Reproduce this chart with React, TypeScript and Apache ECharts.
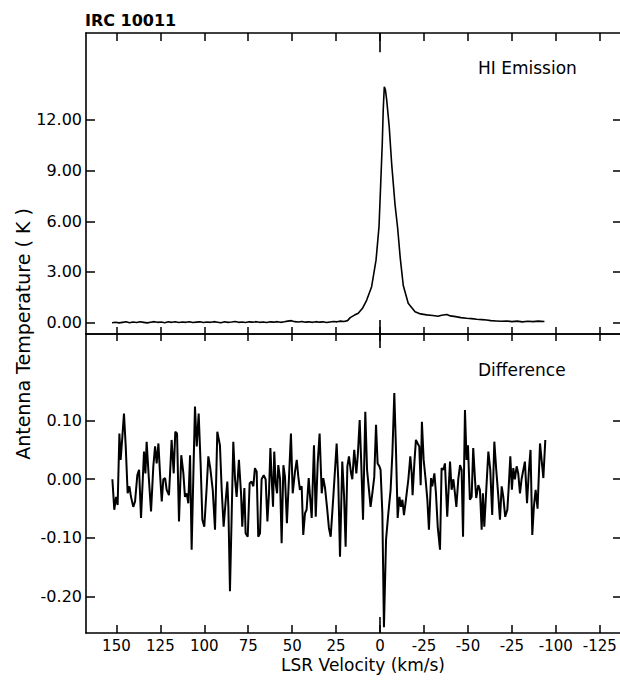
import React, { useEffect, useRef } from "react";
import * as echarts from "echarts";

// HI emission profile (LSR velocity km/s, antenna temperature K)
const hiVel = [
  152.5, 150.5, 148.5, 146.5, 144.5, 142.5, 140.5, 138.5, 136.5, 134.5, 132.5, 130.5, 128.5, 126.5, 124.5,
  122.5, 120.5, 118.5, 116.5, 114.5, 112.5, 110.5, 108.5, 106.5, 104.5, 102.5, 100.5, 98.5, 96.5, 94.5,
  92.5, 90.5, 88.5, 86.5, 84.5, 82.5, 80.5, 78.5, 76.5, 74.5, 72.5, 70.5, 68.5, 66.5, 64.5, 62.5, 60.5,
  58.5, 56.5, 54.5, 52.5, 50.5, 48.5, 46.5, 44.5, 42.5, 40.5, 38.5, 36.5, 34.5, 32.5, 30.5, 28.5, 26.5,
  24.5, 22.5, 20.5, 18.5, 17, 14.5, 12.4, 10, 7.6, 4.8, 2.3, 0.6, -0.3, -1.25, -1.8, -2.4, -3.0, -3.75,
  -5.2, -6.6, -8.5, -10.0, -11.5, -13.2, -16, -19.9, -23, -26.5, -30, -33, -35, -38, -40, -43, -46,
  -49.3, -52, -55, -58, -60.6, -63, -66, -69, -72, -75, -78, -81, -84, -87, -90, -93.5,
];
const hiTemp = [
  0.0, 0.03, -0.01, 0.02, 0.05, 0.0, 0.04, 0.01, 0.05, 0.02, -0.01, 0.03, 0.06, 0.02, 0.04,
  0.0, 0.05, 0.02, 0.06, 0.01, 0.04, 0.02, 0.06, 0.01, 0.03, 0.05, 0.01, 0.04, 0.02, 0.06,
  0.03, 0.0, 0.05, 0.02, 0.04, 0.07, 0.02, 0.04, 0.01, 0.05, 0.03, 0.06, 0.02, 0.04, 0.01, 0.05, 0.03,
  0.06, 0.02, 0.05, 0.09, 0.12, 0.06, 0.04, 0.07, 0.03, 0.05, 0.02, 0.06, 0.03, 0.05, 0.01, 0.04, 0.07,
  0.05, 0.09, 0.07, 0.12, 0.3, 0.45, 0.56, 0.85, 1.34, 2.13, 3.7, 5.68, 8.05, 10.6, 12.6, 13.96, 13.8, 13.2,
  11.6, 9.4, 7.0, 5.6, 3.8, 2.2, 1.15, 0.65, 0.52, 0.46, 0.42, 0.38, 0.44, 0.48, 0.4, 0.36, 0.3,
  0.26, 0.24, 0.2, 0.18, 0.16, 0.12, 0.1, 0.08, 0.1, 0.06, 0.09, 0.05, 0.08, 0.06, 0.09, 0.07,
];

// Difference spectrum
const diffVel = [
  152.3, 151.2, 150.2, 149.3, 148.3, 147.6, 146.6, 145.7, 144.7, 143.6, 142.6, 141.7, 140.4, 139.4, 138.1,
  137.1, 136.0, 135.0, 134.3, 133.5, 132.8, 131.6, 130.3, 129.0, 128.0, 127.1, 126.1, 125.2, 124.2, 123.3,
  122.3, 121.4, 120.1, 119.1, 118.6, 117.4, 116.5, 115.5, 114.4, 113.1, 111.9, 111.0, 110.0, 109.1, 108.1,
  107.2, 106.2, 105.3, 104.3, 103.2, 102.1, 101.1, 100.0, 98.6, 97.7, 96.6, 95.2, 93.9, 92.6,
  91.1, 90.1, 89.0, 87.8, 86.9, 86.3, 85.4, 84.4, 83.5, 82.5, 81.6, 80.3, 79.1, 78.4, 77.2, 76.5, 75.3,
  74.2, 73.1, 72.1, 71.2, 70.2, 69.3, 68.3, 67.4, 66.2, 65.1, 64.1, 63.2, 62.4, 61.7, 60.9, 60.2, 59.4,
  58.6, 57.9, 56.9, 56.0, 55.0, 54.1, 53.0, 51.8, 50.7, 49.7, 48.4, 47.4, 46.5, 45.6, 44.6, 43.7, 42.7,
  41.8, 40.6, 39.9, 38.9, 37.6, 36.6, 35.5, 34.4, 33.2, 32.3, 31.3, 30.2, 29.1,
  28.1, 26.6, 24.7, 23.8, 22.8, 21.5, 20.5, 19.6, 18.6, 17.7, 16.5, 15.8, 14.7, 13.5, 12.6, 11.6, 10.7,
  9.7, 8.4, 7.4, 6.5, 5.4, 4.4, 3.3, 2.3, 1.4, 0.4, -0.3, -1.3, -2.2, -3.4, -4.7, -6.0, -7.0, -8.1, -9.0,
  -10.0, -11.0, -11.9, -12.7, -13.6, -14.7, -16.1, -17.2, -18.0, -18.5, -19.5, -20.4, -21.4, -22.3, -23.1,
  -23.8, -24.8, -25.9, -26.9, -27.8, -29.0, -29.7, -30.9, -31.8, -32.8, -34.1,
  -35.0, -36.0, -36.9, -38.2, -39.8, -40.7, -41.7, -42.6, -43.4, -44.5, -45.5, -46.4, -47.2, -48.3, -49.2,
  -50.0, -51.1, -52.1, -53.0, -54.0, -54.7, -55.9, -56.8, -57.8, -58.5, -59.3, -60.2, -61.6, -62.7, -63.8,
  -65.0, -66.1, -67.3, -68.2, -69.2, -70.1, -71.2, -72.4, -73.1, -74.1, -75.0, -75.8, -76.7, -77.7, -78.6,
  -79.6, -80.5, -81.5, -82.4, -83.6, -84.7, -85.6, -86.6, -87.5, -88.5, -89.6, -91.0, -91.9, -92.9, -94.0,
];
const diffVal = [
  0.0, -0.052, -0.03, -0.044, 0.078, 0.033, 0.073, 0.112, 0.056, -0.024, -0.012, -0.03, -0.047, -0.038, 0.007,
  0.016, -0.066, 0.0, 0.047, 0.01, 0.064, 0.004, -0.055, 0.022, 0.056, 0.027, 0.061, 0.01, -0.038, 0.0,
  0.002, -0.018, -0.027, 0.033, 0.067, 0.01, 0.081, 0.078, -0.072, 0.041, 0.01, -0.03, -0.024, -0.041, 0.041,
  -0.12, 0.01, 0.124, 0.056, 0.112, 0.027, -0.069, -0.081, -0.012, 0.039, 0.019, -0.018, -0.086, 0.081,
  0.058, -0.018, -0.081, -0.035, -0.004, -0.047, -0.191, -0.058, 0.064, 0.0, -0.03, 0.033, -0.024, -0.081, -0.015, -0.092, -0.098,
  -0.007, -0.004, -0.012, 0.019, 0.013, -0.098, -0.092, 0.0, 0.007, 0.0, -0.072, -0.024, 0.053, 0.004, -0.047, 0.047, -0.007,
  -0.024, 0.024, 0.0, -0.109, 0.024, 0.004, -0.075, 0.004, 0.078, -0.024, 0.013, 0.033, 0.004, -0.018, -0.012, -0.095, -0.058,
  -0.052, 0.002, -0.027, -0.066, 0.058, -0.064, 0.027, 0.078, -0.024, 0.002, -0.015, -0.047, -0.083,
  -0.098, -0.03, 0.061, 0.0, -0.132, 0.03, -0.027, -0.115, 0.022, 0.039, 0.01, 0.0, 0.05, 0.01, 0.044, 0.101, 0.027,
  -0.069, 0.115, 0.016, -0.012, -0.047, -0.024, 0.004, 0.093, 0.027, 0.022, 0.016, -0.058, -0.252, -0.103, -0.058, -0.018, 0.044, 0.147, 0.056,
  -0.066, -0.03, -0.047, -0.035, -0.061, -0.035, 0.0, 0.039, 0.01, -0.027, 0.027, 0.067, 0.061, 0.056, -0.01,
  0.098, 0.033, 0.0, -0.035, -0.086, 0.002, -0.012, 0.01, -0.024, -0.081, -0.12,
  0.019, 0.016, 0.027, -0.064, 0.03, -0.018, 0.0, -0.024, -0.047, 0.0, 0.024, 0.016, -0.098, 0.118, 0.033,
  0.058, -0.035, -0.03, 0.053, 0.0, -0.032, -0.01, -0.018, -0.086, -0.024, -0.081, -0.03, 0.047, 0.016, -0.061,
  0.064, 0.016, -0.03, -0.069, -0.012, -0.03, -0.064, -0.052, -0.018, 0.039, -0.018, 0.019, 0.0, 0.022, 0.01,
  -0.024, 0.0, 0.016, 0.03, -0.041, 0.016, 0.05, -0.095, -0.047, -0.018, -0.05, 0.061, 0.033, 0.002, 0.067,
];

// Axis ticks and labels
const xTickValues = [150, 125, 100, 75, 50, 25, 0, -25, -50, -75, -100, -125];
const xTickLabels = ["150", "125", "100", "75", "50", "25", "0", "-25", "-50", "-25", "-100", "-125"];
const topYTicks = [0, 3, 6, 9, 12];
const bottomYTicks = [-0.2, -0.1, 0, 0.1];

const FONT = "DejaVu Sans";
const BLACK = "#000";

export default function App() {
  const ref = useRef<HTMLDivElement>(null);

  useEffect(() => {
    if (!ref.current) return;
    const chart = echarts.init(ref.current, undefined, { renderer: "svg" });

    const xMin = -136.5;
    const xMax = 167.3;
    const topMin = -0.67;
    const topMax = 17.14;
    const botMin = -0.262;
    const botMax = 0.2475;

    const lineAxis = { show: true, onZero: false, lineStyle: { color: BLACK, width: 1.6 } };

    const mkX = (grid: number, position: string, tickLen: number, showLabel: boolean) => ({
      type: "value",
      gridIndex: grid,
      position,
      min: xMin,
      max: xMax,
      inverse: true,
      axisLine: lineAxis,
      axisTick: {
        show: true,
        inside: true,
        length: tickLen,
        customValues: xTickValues,
        lineStyle: { color: BLACK, width: 1.5 },
      },
      axisLabel: {
        show: showLabel,
        customValues: xTickValues,
        formatter: (v: number) => {
          const i = xTickValues.indexOf(Math.round(v));
          return i >= 0 ? xTickLabels[i] : "";
        },
        color: BLACK,
        fontFamily: FONT,
        fontSize: 15,
        lineHeight: 15,
        margin: 5,
      },
      splitLine: { show: false },
    });

    const mkY = (
      grid: number,
      position: string,
      min: number,
      max: number,
      ticks: number[],
      showLabel: boolean,
      showLine: boolean,
      tickLen: number
    ) => ({
      type: "value",
      gridIndex: grid,
      position,
      min,
      max,
      axisLine: showLine ? lineAxis : { show: false, onZero: false },
      axisTick: {
        show: true,
        inside: true,
        length: tickLen,
        customValues: ticks,
        lineStyle: { color: BLACK, width: 1.5 },
      },
      axisLabel: {
        show: showLabel,
        customValues: ticks,
        formatter: (v: number) => v.toFixed(2),
        color: BLACK,
        fontFamily: FONT,
        fontSize: 16,
        margin: 4,
      },
      splitLine: { show: false },
    });

    const zeroTick = { color: BLACK, width: 1.6, type: "solid" };

    chart.setOption({
      animation: false,
      backgroundColor: "#fff",
      grid: [
        { left: 86, right: 0, top: 33, height: 301 },
        { left: 86, right: 0, top: 334, height: 299 },
      ],
      xAxis: [
        mkX(0, "top", 8, false),
        mkX(0, "bottom", 7, false),
        mkX(1, "top", 7, false),
        mkX(1, "bottom", 8, true),
      ],
      yAxis: [
        mkY(0, "left", topMin, topMax, topYTicks, true, true, 9),
        mkY(0, "right", topMin, topMax, topYTicks, false, false, 7),
        mkY(1, "left", botMin, botMax, bottomYTicks, true, true, 9),
        mkY(1, "right", botMin, botMax, bottomYTicks, false, false, 7),
      ],
      graphic: [
        {
          type: "text",
          left: 85,
          top: 12,
          style: { text: "IRC 10011", fontFamily: FONT, fontWeight: "bold", fontSize: 16, fill: BLACK },
        },
        {
          type: "text",
          left: 478,
          top: 59,
          style: { text: "HI Emission", fontFamily: FONT, fontSize: 17, fill: BLACK },
        },
        {
          type: "text",
          left: 478,
          top: 361,
          style: { text: "Difference", fontFamily: FONT, fontSize: 17, fill: BLACK },
        },
        {
          type: "text",
          x: 363,
          y: 665,
          style: {
            text: "LSR Velocity (km/s)",
            fontFamily: FONT,
            fontSize: 17,
            lineHeight: 17,
            fill: BLACK,
            textAlign: "center",
            textVerticalAlign: "middle",
          },
        },
        {
          type: "text",
          x: 23,
          y: 334,
          rotation: Math.PI / 2,
          style: {
            text: "Antenna Temperature ( K )",
            fontFamily: FONT,
            fontSize: 19,
            fill: BLACK,
            textAlign: "center",
            textVerticalAlign: "middle",
          },
        },
      ],
      series: [
        {
          type: "line",
          xAxisIndex: 0,
          yAxisIndex: 0,
          data: hiVel.map((v, i) => [v, hiTemp[i]]),
          symbol: "none",
          lineStyle: { color: BLACK, width: 1.6 },
          markLine: {
            silent: true,
            symbol: "none",
            label: { show: false },
            lineStyle: zeroTick,
            data: [
              [{ coord: [0, topMax] }, { coord: [0, 16.0] }],
              [{ coord: [0, 0.16] }, { coord: [0, topMin] }],
            ],
          },
        },
        {
          type: "line",
          xAxisIndex: 3,
          yAxisIndex: 2,
          data: diffVel.map((v, i) => [v, diffVal[i]]),
          symbol: "none",
          lineStyle: { color: BLACK, width: 2 },
          markLine: {
            silent: true,
            symbol: "none",
            label: { show: false },
            lineStyle: zeroTick,
            data: [
              [{ coord: [0, botMax] }, { coord: [0, 0.2237] }],
              [{ coord: [0, -0.2346] }, { coord: [0, botMin] }],
            ],
          },
        },
      ],
    });

    return () => chart.dispose();
  }, []);

  return (
    <div
      ref={ref}
      style={{ position: "absolute", left: 0, top: 0, width: 620, height: 681, background: "#fff" }}
    />
  );
}
